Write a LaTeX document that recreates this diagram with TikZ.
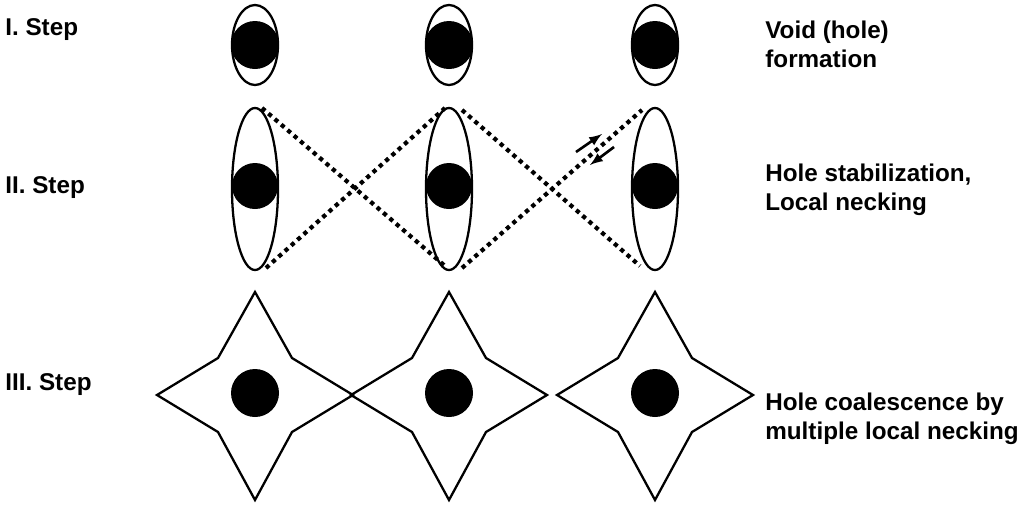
\documentclass[tikz,border=0pt]{standalone}
\usepackage{fontspec}
\setmainfont{Liberation Sans}
\usetikzlibrary{arrows}
\begin{document}
\begin{tikzpicture}[
		x=0.02cm, y=-0.02cm,
		hole/.style={fill=black},
		cell/.style={draw, line width=1.3pt},
		neck/.style={line width=2.4pt, dash pattern=on 2.4pt off 2.4pt},
		lbl/.style={anchor=west, font=\fontsize{13.8}{16.5}\selectfont\bfseries, align=left, inner sep=0pt},
		>=latex]
	\useasboundingbox (0,0) rectangle (1024,511);
	%% labels
	\node[lbl] (s1) at (5,30) {I. Step};
	\node[lbl] (s2) at (5,188) {II. Step};
	\node[lbl] (s3) at (5,385) {III. Step};
	\node[lbl] (t1) at (765,44) {Void (hole)\\formation};
	\node[lbl] (t2) at (765,190) {Hole stabilization,\\Local necking};
	\node[lbl] (t3) at (765,419) {Hole coalescence by\\multiple local necking};
	%% cells
	\foreach \x in {255,449,655} {
		\draw[cell] (\x,45) ellipse (23 and 40);
		\fill[hole] (\x,45) circle (24);
		\draw[cell] (\x,189) ellipse (23 and 81);
		\fill[hole] (\x,186) circle (23);
		\draw[cell] (\x,292) -- (\x+37,358) -- (\x+98,395) -- (\x+37,432)
			-- (\x,500) -- (\x-37,432) -- (\x-98,395) -- (\x-37,358) -- cycle;
		\fill[hole] (\x,393) circle (24);
	}
	%% necking lines
	\draw[neck] (262,108) -- (445,266);
	\draw[neck] (266,268) -- (445,108);
	\draw[neck] (462,110) -- (640,266);
	\draw[neck] (462,268) -- (642,110);
	\draw[-latex, line width=1.5pt] (576,152) -- (602,134);
	\draw[-latex, line width=1.5pt] (614,147) -- (590,165);
\end{tikzpicture}
\end{document}
